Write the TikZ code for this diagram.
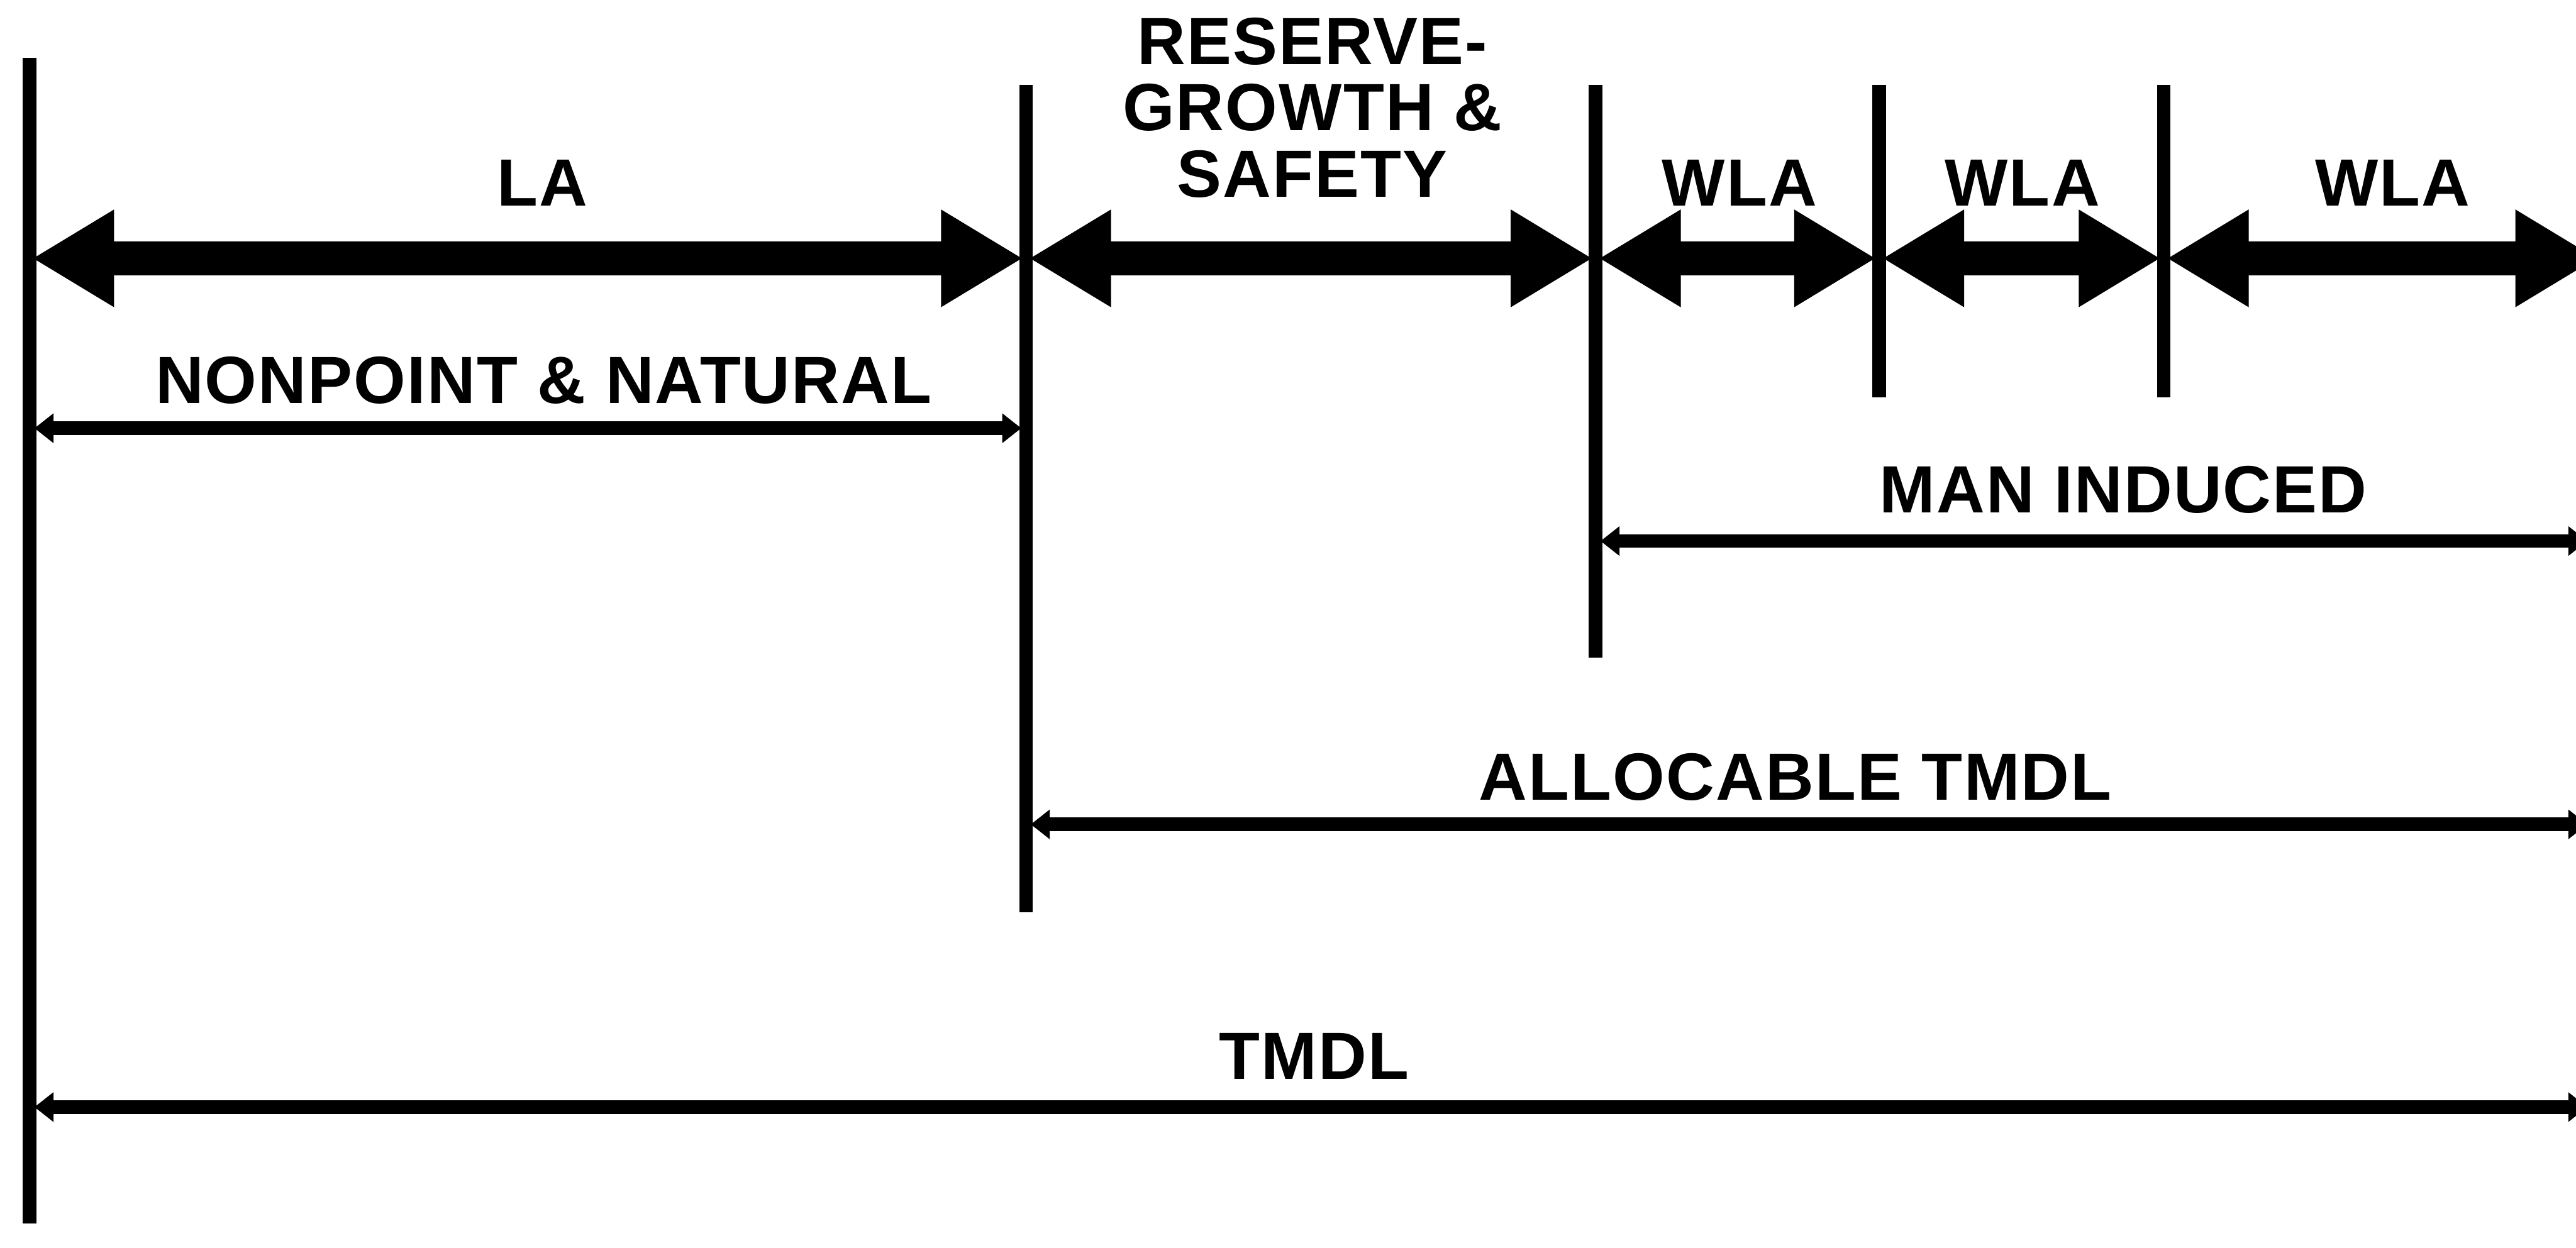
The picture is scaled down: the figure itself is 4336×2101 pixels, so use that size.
\documentclass[tikz,border=0pt]{standalone}
\usepackage{fontspec}
\newfontfamily\labfont[LetterSpace=2]{Liberation Sans}
\usetikzlibrary{arrows.meta}
\tikzset{
  vline/.style={line width=0.23cm, line cap=butt},
  bigarrow/.style={line width=0.58cm,
    {Triangle[length=1.38cm,width=1.54cm]}-{Triangle[length=1.38cm,width=1.54cm]}},
  thinarrow/.style={line width=0.23cm,
    {Triangle[length=0.32cm,width=0.48cm]}-{Triangle[length=0.32cm,width=0.48cm]}},
  lbl/.style={font=\labfont\bfseries\fontsize{32}{32}\selectfont, inner sep=0pt, anchor=base},
}
\begin{document}
\begin{tikzpicture}[x=0.01cm,y=-0.01cm]
\useasboundingbox (0,0) rectangle (4336,2101);
% vertical division lines
\coordinate (v1t) at (50,97);   \coordinate (v1b) at (50,2060);
\coordinate (v2t) at (1727,143); \coordinate (v2b) at (1727,1536);
\coordinate (v3t) at (2686,143); \coordinate (v3b) at (2686,1107);
\coordinate (v4t) at (3163,143); \coordinate (v4b) at (3163,669);
\coordinate (v5t) at (3642,143); \coordinate (v5b) at (3642,669);
\draw[vline] (v1t) -- (v1b);
\draw[vline] (v2t) -- (v2b);
\draw[vline] (v3t) -- (v3b);
\draw[vline] (v4t) -- (v4b);
\draw[vline] (v5t) -- (v5b);
% top thick arrows
\coordinate (a1) at (54,435);
\coordinate (a2) at (1722,435); \coordinate (a3) at (1732,435);
\coordinate (a4) at (2681,435); \coordinate (a5) at (2691,435);
\coordinate (a6) at (3158,435); \coordinate (a7) at (3168,435);
\coordinate (a8) at (3637,435); \coordinate (a9) at (3647,435);
\coordinate (a10) at (4372,435);
\draw[bigarrow] (a1) -- (a2);
\draw[bigarrow] (a3) -- (a4);
\draw[bigarrow] (a5) -- (a6);
\draw[bigarrow] (a7) -- (a8);
\draw[bigarrow] (a9) -- (a10);
% thin arrows
\coordinate (n1) at (58,721);  \coordinate (n2) at (1719,721);
\coordinate (m1) at (2694,911); \coordinate (m2) at (4355,911);
\coordinate (al1) at (1735,1388); \coordinate (al2) at (4355,1388);
\coordinate (t1) at (58,1864); \coordinate (t2) at (4355,1864);
\draw[thinarrow] (n1) -- (n2);
\draw[thinarrow] (m1) -- (m2);
\draw[thinarrow] (al1) -- (al2);
\draw[thinarrow] (t1) -- (t2);
% labels
\node[lbl] (la) at (913,347) {LA};
\node[lbl] (rs1) at (2209,108) {RESERVE-};
\node[lbl] (rs2) at (2209,220) {GROWTH \&};
\node[lbl] (rs3) at (2209,332) {SAFETY};
\node[lbl] (w1) at (2928,347) {WLA};
\node[lbl] (w2) at (3404,347) {WLA};
\node[lbl] (w3) at (4027,347) {WLA};
\node[lbl] (np) at (915,679) {NONPOINT \& NATURAL};
\node[lbl] (mi) at (3574,863) {MAN INDUCED};
\node[lbl] (at) at (3022,1347) {ALLOCABLE TMDL};
\node[lbl] (tm) at (2212,1817) {TMDL};
\end{tikzpicture}
\end{document}
